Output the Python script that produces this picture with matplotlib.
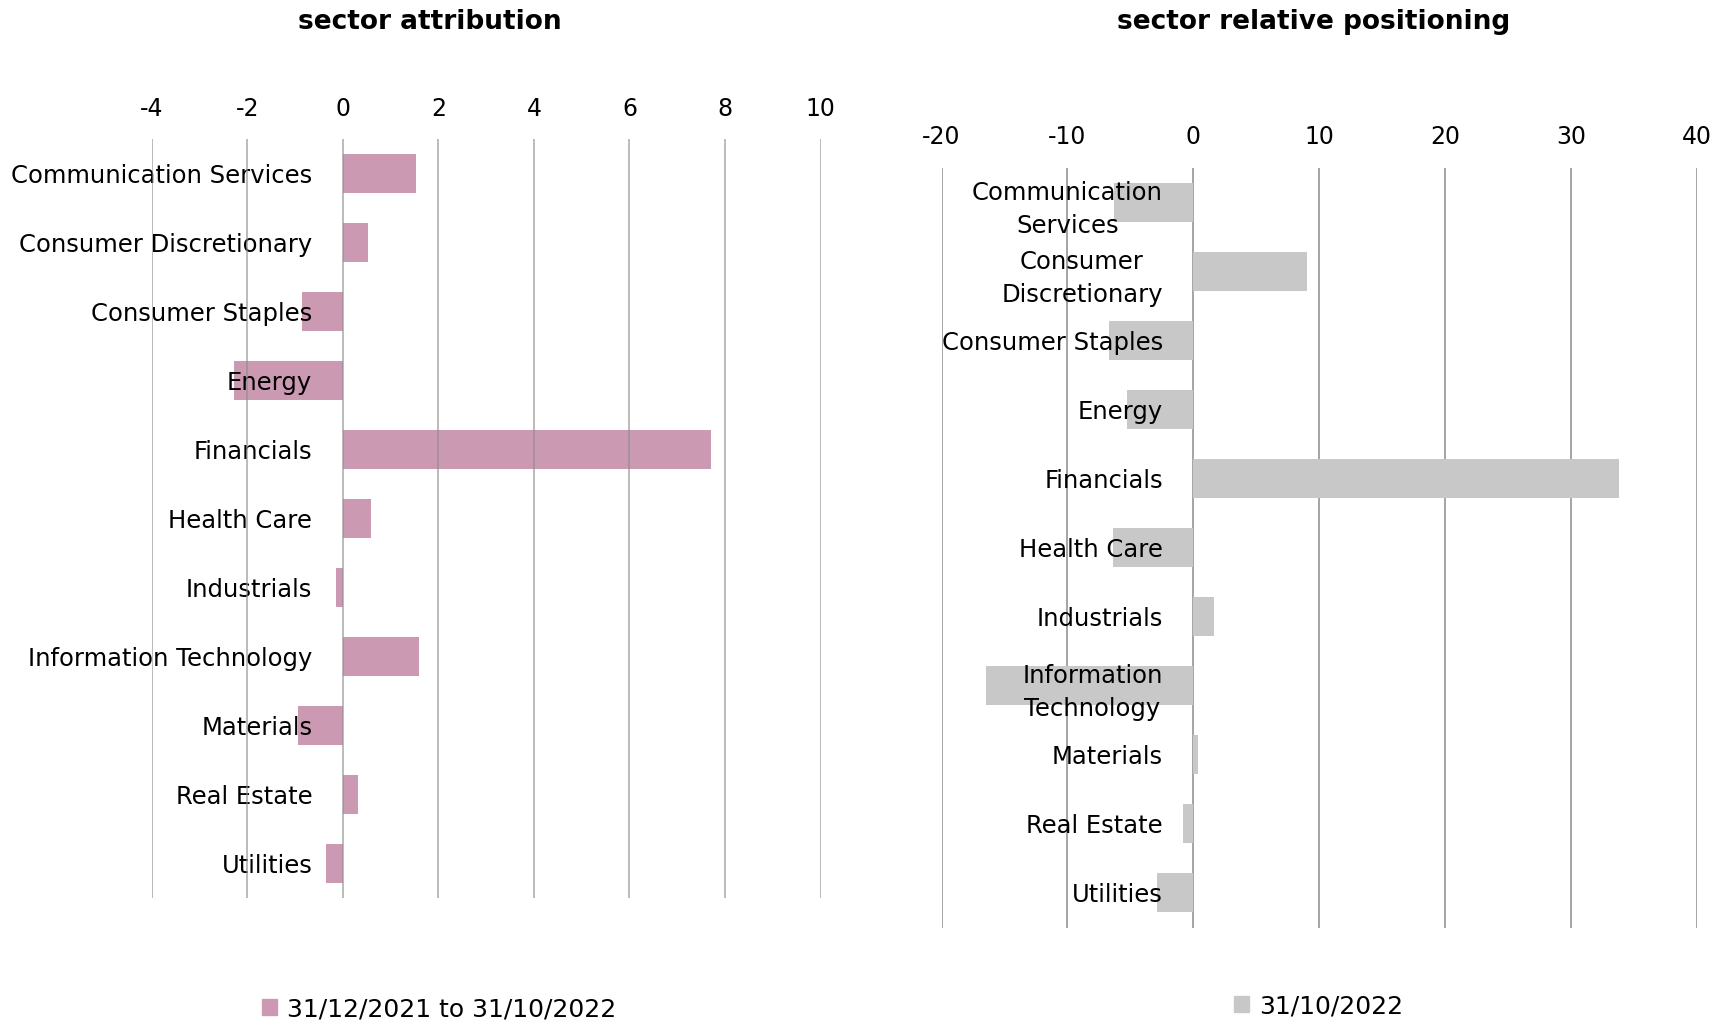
import matplotlib
matplotlib.use("Agg")
import matplotlib.pyplot as plt
from matplotlib.patches import Patch

plt.rcParams['font.family'] = ['DejaVu Sans']

sectors_left = ["Communication Services", "Consumer Discretionary", "Consumer Staples",
                "Energy", "Financials", "Health Care", "Industrials",
                "Information Technology", "Materials", "Real Estate", "Utilities"]
sectors_right = ["Communication\nServices", "Consumer\nDiscretionary", "Consumer Staples",
                 "Energy", "Financials", "Health Care", "Industrials",
                 "Information\nTechnology", "Materials", "Real Estate", "Utilities"]
attribution = [1.54, 0.52, -0.85, -2.27, 7.70, 0.59, -0.15, 1.59, -0.94, 0.31, -0.35]
positioning = [-6.3, 9.0, -6.7, -5.3, 33.8, -6.4, 1.65, -16.5, 0.35, -0.82, -2.86]
left_ticks = [-4, -2, 0, 2, 4, 6, 8, 10]
right_ticks = [-20, -10, 0, 10, 20, 30, 40]
left_legend = "31/12/2021 to 31/10/2022"
right_legend = "31/10/2022"

pink = "#CC99B3"
grey = "#C8C8C8"
gridc = "#8C8C8C"
FS = 17
FSY = 17.5

W, H = 1711, 1021
fig = plt.figure(figsize=(W / 100, H / 100), dpi=100)

def setup(ax, labels, vals, color, ticks, grid_on_top, tickpad):
    ax.spines['left'].set_position(('data', 0))
    for s in ax.spines.values():
        s.set_visible(False)
    ax.set_axisbelow(False)
    y = list(range(len(labels)))
    ax.barh(y, vals, height=0.565, color=color, zorder=2)
    ax.set_ylim(len(labels) - 0.5, -0.5)
    ax.set_xlim(ticks[0], ticks[-1])
    ax.set_xticks(ticks)
    ax.set_xticklabels([str(t) for t in ticks])
    ax.xaxis.tick_top()
    ax.tick_params(axis='x', length=0, pad=tickpad, labelsize=FS)
    ax.set_yticks(y)
    ax.set_yticklabels(labels, fontsize=FSY)
    ax.tick_params(axis='y', length=0, pad=22)
    for lab in ax.get_yticklabels():
        lab.set_multialignment('center')
        lab.set_linespacing(1.45)
    for t in ticks:
        ax.axvline(t, color=gridc, lw=1.1, zorder=3 if grid_on_top else 1,
                   alpha=0.75 if grid_on_top else 1.0)
    ax.set_facecolor('none')

ax1 = fig.add_axes([151.7 / W, 1 - 898 / H, (820.6 - 151.7) / W, (898 - 138.6) / H])
setup(ax1, sectors_left, attribution, pink, left_ticks, True, 13)

ax2 = fig.add_axes([941.5 / W, 1 - 927.5 / H, (1697 - 941.5) / W, (927.5 - 168) / H])
setup(ax2, sectors_right, positioning, grey, right_ticks, False, 14)

fig.text(430 / W, 1 - 22 / H, "sector attribution", ha='center', va='center',
         fontsize=19, fontweight='bold')
fig.text(1314 / W, 1 - 22 / H, "sector relative positioning", ha='center', va='center',
         fontsize=19, fontweight='bold')

leg_kw = dict(frameon=False, fontsize=18, handlelength=0.6, handleheight=0.6,
              handletextpad=0.4, borderpad=0, borderaxespad=0, loc='center left')
fig.legend(handles=[Patch(color=pink, label=left_legend)],
           bbox_to_anchor=(262 / W, 1 - 1009 / H), **leg_kw)
fig.legend(handles=[Patch(color=grey, label=right_legend)],
           bbox_to_anchor=(1234 / W, 1 - 1006 / H), **leg_kw)

fig.savefig("out.png", dpi=100, facecolor='white')
